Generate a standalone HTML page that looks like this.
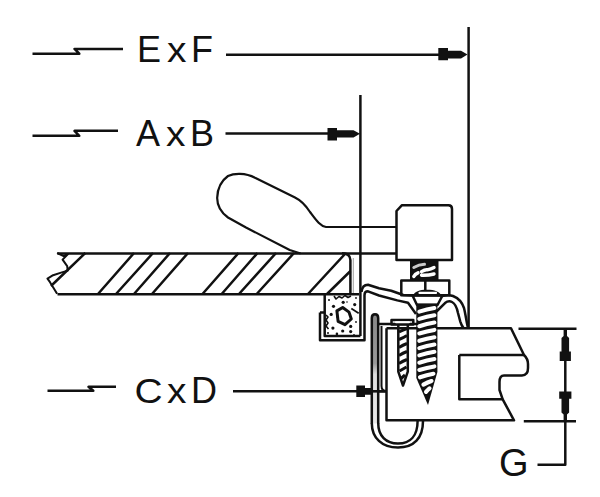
<!DOCTYPE html>
<html><head><meta charset="utf-8">
<style>
html,body{margin:0;padding:0;background:#fff;}
body{width:600px;height:497px;overflow:hidden;position:relative;}
svg{position:absolute;left:0;top:0;}
.t{font-family:"Liberation Sans",sans-serif;font-size:36px;fill:#111;}
</style></head><body>
<svg width="600" height="497" viewBox="0 0 600 497">
<defs><linearGradient id="pg" x1="0" y1="0" x2="0" y2="1"><stop offset="0" stop-color="#888"/><stop offset="0.45" stop-color="#999"/><stop offset="0.55" stop-color="#ddd"/><stop offset="1" stop-color="#e8e8e8"/></linearGradient></defs>
<g fill="none" stroke="#111" stroke-width="2.5" stroke-linejoin="round" stroke-linecap="butt">
  <!-- ExF dimension -->
  <path d="M32.5 53.7 H79.3 L74.5 48.9 H123"/>
  <path d="M226 54.7 H440"/>
  <path d="M468.6 27 V328.5"/>
  <!-- AxB dimension -->
  <path d="M32.5 135.8 H79.3 L74.5 130.8 H118"/>
  <path d="M225.5 133.5 H330"/>
  <path d="M360.4 95 V336"/>
  <!-- CxD dimension -->
  <path d="M47.5 390.8 H93.3 L88.5 386.7 H116"/>
  <path d="M233 391.3 H386"/>
  <!-- handle -->
  <path stroke-width="2.2" d="M300.6 253.5 L289.7 250 L246 227.5 L228 217.5 C222 213 217 206 217.2 197.6 C217.5 189 221 181 228 176 C232 174 236 173.7 240 173.8 C246 174 250 175 255 177.7 L295 197.6 C302 201 306 206 310 212 C316 220 320 226 326 227 H396.5"/>
  <!-- board -->
  <path d="M57.5 253.5 H396.5"/>
  <path d="M57.5 294.3 H359"/>
  <path stroke-width="2" d="M57.1 253 L63.6 256 L68 254 L62.6 259.6 L67.2 266.1 L67.7 270.6 L61.1 272.6 L53.1 275.2 L47.5 278.7 L50 282.2 L53.1 287.2 L57.1 293.8"/>
  <path d="M51 286 L85.3 253 M98 294 L134 253 M116 294 L153 253 M134 294 L170 253 M152 294 L188 253 M202.5 294 L238.5 253 M221.7 294 L257.5 253 M239 294 L276 253 M256.7 294 L294 253 M308 294 L345 254 M327 294 L350.5 271"/>
  <path d="M342 253.3 C347 253.5 350.4 255 350.4 260 V294"/>
  <path stroke-width="0.8" stroke="#888" d="M353.3 258 V293"/>
  <!-- block -->
  <path d="M396.5 211 L402 205.2 H448.5 C451 205.2 452 207 452 209 V260 H396.5 Z"/>
  <!-- nut -->
  <path d="M401.3 280.5 H449.3 V295.3 H401.3 Z M425.3 280.5 V291"/>
  <!-- speckled box + U channel -->
  <path d="M324.7 294.3 V336 H360.4"/>
  <path d="M320 312.5 H324.7 M320 312.5 V340.2 H364.5 V295 C364.5 292.5 366 291.3 368 291.3 L379 295.5 L397.3 300.4 L408 302.8 L416 314"/>
  <path d="M361.5 292 C362 287 364.5 284.7 368 284.7 L379 288.3 L391.2 290.7 L403.3 295 L412 295.6"/>
  <path stroke-width="3" d="M336.9 310.9 L342.7 307.5 L349 312.1 L351.3 319 L345 324.7 L338.1 321.3 Z"/><path stroke-width="1.6" d="M334 296 L336 299 L339 296.5 L342 298 L345 295.5 L348 297.5 L351 296 M326 315 L328 317 L326 320 L328 323 L326 326 L328.5 329"/>
  <path stroke-width="1.8" d="M351.3 308.6 L358.7 313.2"/>
  <!-- right bracket -->
  <path d="M442 296 C446 295 450 294.8 453 296 C458 298 462 302 464 308 C465.5 314 466.5 322 468 328"/>
  <path d="M436.5 311.5 L445 303.1 C447 301.5 450 301 452 302 C455 303.5 457 308 458 313 L460.2 321.3 C461 324 462 326 463.5 328"/>
  <!-- big screw head -->
  <path d="M412.5 295.5 H442.5 L437.5 305 H417 Z"/>
  <!-- small screw head -->
  <path d="M391.5 320 H413.3 V324.6 H391.5 Z"/>
  <!-- clip plate -->
  <path fill="url(#pg)" d="M371.8 423.5 V318 C371.8 315.5 373 314.2 375 314.2 C377 314.2 378.2 315.5 378.2 318 V423.5"/>
  <path d="M371.8 423 C371.8 438 382 447.6 398 447.6 C414 447.6 423 438 423 421"/>
  <path d="M378.2 423 C378.2 436 386 443.6 398 443.6 C410 443.6 417.6 436 417.6 421"/>
  <path stroke-width="2.4" d="M378.2 324 H418"/><path stroke-width="2" d="M381.5 326 V386 C381.5 389 383 391 386.5 391"/>
  <!-- small screw shaft -->
  <path d="M398.3 324.6 V371.6 L403 385.5 L407.8 371.6 V324.6"/>
  <path stroke-width="3" d="M399 332 Q403 330 407 328.5 M399 339.5 Q403 338 407 335.5 M399 347.5 Q403 345 407 343.5 M399 355.5 Q403 353 407 351.5 M399 363.5 Q403 361 407 359.5 M399.5 371 Q403 369 406.5 367 M401 378.5 L405 375"/>
  <!-- wood piece -->
  <path d="M386.5 328.3 H511 L524 355 C527 358 528 361 528 364 V368 C528 373 526 375.4 522 375.4 H504 C501 375.4 499.5 378 499.5 382 V390 L502.7 399.3 L514 420.3 H386.5 V328.3"/>
  <path d="M459.3 355 H524 M459.3 355 V399.3 H502.7"/>
  <!-- G dimension -->
  <path d="M518.5 328.8 H576.5 M523.8 421.2 H576"/>
  <path d="M565.3 328.8 V464.7 H537.5"/>
</g>
<g fill="#111">
  <!-- threaded rod below block -->
  
  <path d="M410 259.5 H438.5 V280.5 H410 Z"/>
  <path d="M412.5 296 C415 291.5 419 289.8 427 289.8 C435 289.8 439 291.5 442 296 Z"/>
  <!-- big screw shaft -->
  <path d="M416.3 303.5 H437.4 V372 L428 405 L416.3 378 Z"/>
  <!-- small screw shaft -->
  
  <!-- arrowheads -->
  <path d="M438.3 48 H448 V50.8 H461 L467.5 54.6 L461 58.4 H448 V60.3 H438.3 Z"/>
  <path d="M327.5 128 H337 V130.2 H353.5 L360 133.7 L353.5 137.5 H337 V140.5 H327.5 Z"/>
  <path d="M356.3 385.6 H365 V388 H372 V394.7 H365 V396.9 H356.3 Z"/><path d="M365 390 H386 V392.6 H365 Z"/>
  <path d="M559.7 361 H570.9 V351.5 H569.1 V338 L567 336 V329 H563.6 V336 L561.5 338 V351.5 H559.7 Z"/>
  <path d="M559.2 391.4 H571.4 V398.7 H569.1 V412.5 L567 414.5 V421 H563.6 V414.5 L561.5 412.5 V398.7 H559.2 Z"/>
  <!-- speckles -->
  <circle cx="343.2" cy="302.3" r="1.6"/><circle cx="333.5" cy="306.3" r="1.6"/><circle cx="354.7" cy="304.6" r="1.6"/><circle cx="331.2" cy="314.4" r="1.6"/><circle cx="332.9" cy="328.1" r="1.6"/><circle cx="342.7" cy="331" r="1.6"/><circle cx="350.7" cy="326.4" r="1.6"/><circle cx="350.7" cy="331.6" r="1.6"/><circle cx="336.9" cy="333.9" r="1.3"/><circle cx="329" cy="300" r="1"/><circle cx="356" cy="298" r="0.9"/><circle cx="328" cy="333" r="1"/><circle cx="356" cy="322" r="0.9"/><circle cx="347" cy="302" r="0.8"/><circle cx="337" cy="317" r="0.8"/><circle cx="354" cy="335" r="0.9"/>
</g>
<!-- white thread bands -->
<g fill="none" stroke="#fff" stroke-linecap="round">
  <path stroke-width="4.1" d="M419.3 311.6 Q426.9 309.2 434.4 308.0 M419.3 318.9 Q426.9 316.5 434.4 315.3 M419.3 326.2 Q426.9 323.8 434.4 322.6 M419.3 333.5 Q426.9 331.1 434.4 329.9 M419.3 340.8 Q426.9 338.4 434.4 337.2 M419.3 348.1 Q426.9 345.7 434.4 344.5 M419.3 355.4 Q426.9 353.0 434.4 351.8 M419.3 362.7 Q426.9 360.3 434.4 359.1 M419.3 370.0 Q426.9 367.6 434.4 366.4 M420 377.3 Q426.7 374.9 433.4 373.7 M423.4 384.6 Q427.8 382.2 431.5 381.0 M426 391.9 Q428.0 389.5 429.5 388.3"/>
  
  
  <path stroke-width="3" stroke="#ccc" d="M413.8 267.5 Q419 264.5 424.5 264.3"/><path stroke-width="3.4" d="M421.5 271.6 Q425 269.5 427.3 269.8 Q431 269 434 267.5 M413.8 276.5 Q415 274 418 272.8 M421.5 275.2 Q428 275.5 434 274"/>
  <path stroke-width="2.2" d="M419.5 292.9 H436"/>
  <path stroke-width="2" d="M396 322.3 H409"/>
  
</g>
<g class="t">
<text x="137" y="62">E</text><text x="167" y="62" transform="translate(167 0) scale(1.08 1) translate(-167 0)">x</text><text x="191" y="62">F</text>
<text x="136" y="146">A</text><text x="166" y="146" transform="translate(166 0) scale(1.08 1) translate(-166 0)">x</text><text x="190" y="146">B</text>
<text x="134.5" y="403" transform="translate(134.5 0) scale(1.08 1) translate(-134.5 0)">C</text><text x="167" y="403" transform="translate(167 0) scale(1.08 1) translate(-167 0)">x</text><text x="191" y="403">D</text>
<text x="499" y="476" style="font-size:38px">G</text>
</g>
</svg>
</body></html>
